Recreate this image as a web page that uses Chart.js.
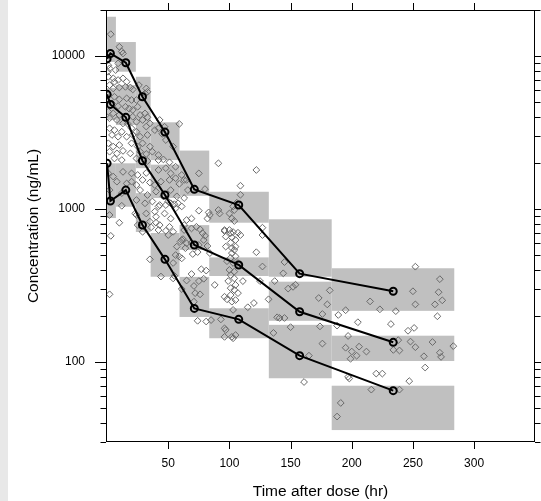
<!DOCTYPE html>
<html>
<head>
<meta charset="utf-8">
<script src="https://cdn.jsdelivr.net/npm/chart.js@4.4.1/dist/chart.umd.min.js"></script>
<style>
  html, body { margin: 0; padding: 0; background: #fff; }
  #strip { position: absolute; left: 0; top: 0; width: 8px; height: 501px; background: #e8e8e8; }
  #wrap { position: absolute; left: 0; top: 0; width: 541px; height: 501px; }
</style>
</head>
<body>
<div id="strip"></div>
<div id="wrap"><canvas id="vpc" width="541" height="501"></canvas></div>
<script>
// bins (time after dose, hr)
const binStart = [0, 7.2, 23.5, 35.6, 59.2, 83.5, 132.2, 183.6];
const binEnd   = [7.2, 23.5, 35.6, 59.2, 83.5, 132.2, 183.6, 283.8];

// simulated prediction intervals (ng/mL) for the 95th, 50th and 5th percentiles
const piHighLo = [9140, 7900, 4400, 2090, 1220, 814, 361, 216];
const piHighHi = [18070, 12350, 7320, 3690, 2410, 1297, 857, 410];
const piMedLo  = [3820, 3540, 1850, 1180, 540, 365, 186, 101.5];
const piMedHi  = [6180, 6460, 4400, 1950, 785, 483, 335, 148.6];
const piLowLo  = [873, 1035, 708, 361, 197, 143, 78.3, 35.9];
const piLowHi  = [1990, 1990, 1270, 697, 360, 224.5, 175, 70];

// observed percentiles per bin
const binTime = [0, 2.7, 15.3, 28.9, 47.3, 71.3, 107.6, 157.4, 233.9];
const obsHigh = [9600, 10400, 9040, 5420, 3185, 1345, 1062, 378, 290];
const obsMed  = [5620, 4830, 3975, 2070, 1235, 582, 431, 213, 134.5];
const obsLow  = [1990, 1128, 1330, 786, 469, 224, 190, 110, 65];

// observed concentrations [time, conc]
const observed = [
  [145,450],[144,380],[148,302],[152,310],[154,320],[182,294],[173,262],[180,238],[176,206],[145,194],
  [141,194],[150,169],[174,171],[176,132],[165,110],[161,74],[189,203],[195,218],[188,173],[205,182],
  [197,148],[195,124],[200,117],[199,105],[206,126],[212,117],[197,80],[198,78],[191,54],[188,44],
  [215,249],[223,221],[232,177],[236,215],[216,66],[220,84],[225,84],[246,160],[251,167],[238,139],
  [234,120],[239,119],[239,66],[247,75],[250,290],[252,420],[252,238],[248,136],[252,125],[259,109],
  [260,92],[266,135],[268,238],[270,199],[271,286],[272,348],[274,253],[272,115],[273,108],[283,127],
  [204,110],[137,338],[136,155],[139,196],[125,338],
  [91,1990],[122,1800],[109,1420],[109,1240],[106,1100],[103,1040],[104,985],[100,935],[102,866],[104,835],
  [96,729],[100,729],[101,696],[97,568],[102,556],[105,568],[91,985],[83,950],[75,975],[75,1710],
  [127,676],[96,718],[103,707],[107,700],[109,676],[97,660],[102,652],[105,627],[101,603],[104,540],
  [102,515],[105,490],[101,479],[98,456],[103,444],[107,444],[100,400],[104,390],[101,370],[104,352],
  [99,338],[105,319],[101,304],[104,296],[107,282],[101,274],[96,267],[98,257],[102,248],[105,254],
  [103,219],[102,146],[105,150],[97,162],[96,146],[88,319],[82,866],[111,338],[115,228],[122,522],
  [127,421],[132,257],[96,166],[93,190],[103,143],[85,188],[120,243],[127,755],[80,1350],
  [84,914],[92,935],[63,729],[69,747],[73,765],[76,737],[78,696],[80,668],[79,627],[61,627],
  [65,597],[69,602],[64,555],[70,508],[74,523],[61,476],[82,573],[84,515],[69,376],[77,404],
  [81,396],[65,341],[71,314],[75,338],[79,350],[72,282],[76,277],[74,186],[81,184],[71,248],
  [75,582],[61,300],[65,1550],
  [35,469],[44,362],[54,444],[59,490],[56,500],[57,568],[60,613],[62,636],[50,676],[54,710],
  [48,720],[43,786],[40,814],[36,760],[39,963],[42,1040],[48,1062],[52,1090],[56,1010],[58,1090],
  [55,366],[54,352],
  [25,786],[29,710],[12,1050],[10,814],[3,668],[2,277],[2,914],[24,914],[32,935],
  [3,13900],[10,11500],[12,10700],[13,10400],[9,8960],[7,8100],[2,8300],[1,7320],[5,7150],[6,6790],
  [9,6970],[13,7150],[16,6790],[2,6460],[5,6140],[10,6230],[15,6290],[19,6230],[21,6050],[32,6140],
  [33,5840],[31,5700],[26,6460],[1,5560],[6,5420],[10,5210],[16,5290],[20,5160],[24,5160],[4,4910],
  [9,4710],[15,4660],[18,4530],[21,4440],[25,4660],[1,4330],[5,4220],[10,4120],[21,4010],[27,4120],
  [31,4220],[2,3920],[8,3820],[13,3630],[17,3600],[24,3720],[29,3820],[33,3980],[2,3370],[6,3280],
  [12,3200],[20,3370],[24,3200],[32,3460],[35,3630],[4,3050],[9,2970],[16,2970],[21,3050],[27,2970],
  [33,3050],[39,3280],[59,3600],[1,2690],[5,2560],[10,2620],[20,2690],[25,2560],[29,2690],[35,2560],
  [2,2370],[8,2310],[13,2400],[19,2310],[27,2370],[32,2290],[37,2370],[42,2250],[6,2140],[12,2090],
  [24,2140],[33,2060],[42,2090],[46,2110],[51,2020],[1,1710],[5,1630],[13,1750],[20,1710],[25,1670],
  [32,1720],[42,1800],[48,1850],[52,1710],[56,1890],[8,1510],[16,1470],[20,1510],[24,1435],[29,1550],
  [35,1490],[39,1435],[44,1510],[51,1550],[56,1590],[2,1330],[12,1270],[27,1330],[33,1235],[40,1300],
  [52,1330],[57,1210],[46,1210],[24,1145],[31,1090],[37,1120],[43,1062],[50,1120],[55,1075],[23,935],
  [40,890],[47,935],[52,866],[35,827],[42,729],[51,765],[59,1460],[63,1550],[61,1670],[66,1330],
  [63,1180],[61,1040],[65,848],[69,866],[63,786],[43,3820],[47,3450],[42,3370],[45,3100],[48,2825],
  [54,2560],[0.5,9400],[1,8700],[0.5,7900]
];

// axes
const xTicks = [50, 100, 150, 200, 250, 300];
const yMajorTicks = [100, 1000, 10000];
const yMinorTicks = [30, 40, 50, 60, 70, 80, 90, 200, 300, 400, 500, 600, 700, 800, 900,
                     2000, 3000, 4000, 5000, 6000, 7000, 8000, 9000, 20000];

const fontFamily = "'Liberation Sans', Arial, sans-serif";

// grey boxes under the points, frame and tick marks on top
const vpcDecor = {
  id: 'vpcDecor',
  beforeDatasetsDraw(chart) {
    const {ctx, chartArea: a, scales: {x, y}} = chart;
    ctx.save();
    ctx.beginPath();
    ctx.rect(a.left, a.top, a.right - a.left, a.bottom - a.top);
    ctx.clip();
    ctx.fillStyle = '#c0c0c0';
    const bands = [[piHighLo, piHighHi], [piMedLo, piMedHi], [piLowLo, piLowHi]];
    binStart.forEach((b, i) => {
      const x0 = x.getPixelForValue(b);
      const x1 = x.getPixelForValue(binEnd[i]);
      bands.forEach(([lo, hi]) => {
        const y0 = y.getPixelForValue(hi[i]);
        const y1 = y.getPixelForValue(lo[i]);
        ctx.fillRect(x0, y0, x1 - x0, y1 - y0);
      });
    });
    ctx.restore();
  },
  afterDraw(chart) {
    const {ctx, chartArea: a, scales: {x, y}} = chart;
    ctx.save();
    ctx.strokeStyle = '#000';
    ctx.lineWidth = 1;
    ctx.strokeRect(a.left + 0.5, a.top + 0.5, a.right - a.left - 1, a.bottom - a.top - 1);
    ctx.beginPath();
    xTicks.forEach(v => {
      const px = Math.round(x.getPixelForValue(v)) + 0.5;
      ctx.moveTo(px, a.top); ctx.lineTo(px, a.top - 7);
      ctx.moveTo(px, a.bottom); ctx.lineTo(px, a.bottom + 7);
    });
    const yTick = (v, len) => {
      const py = Math.round(y.getPixelForValue(v)) + 0.5;
      ctx.moveTo(a.left, py); ctx.lineTo(a.left - len, py);
      ctx.moveTo(a.right, py); ctx.lineTo(a.right + len, py);
    };
    yMajorTicks.forEach(v => yTick(v, 11));
    yMinorTicks.forEach(v => yTick(v, 5.5));
    ctx.stroke();
    ctx.restore();
  }
};

function percentileLine(values) {
  return {
    data: binTime.map((t, i) => ({x: t, y: values[i]})),
    showLine: true,
    borderColor: '#000',
    borderWidth: 2,
    pointRadius: 3.5,
    pointBorderWidth: 2,
    pointBorderColor: '#000',
    pointBackgroundColor: 'rgba(0,0,0,0)',
    pointStyle: 'circle',
    clip: 0,
    order: 0
  };
}

new Chart(document.getElementById('vpc'), {
  type: 'scatter',
  data: {
    datasets: [
      percentileLine(obsHigh),
      percentileLine(obsMed),
      percentileLine(obsLow),
      {
        data: observed.map(p => ({x: p[0], y: p[1]})),
        pointStyle: 'rectRot',
        pointRadius: 3.4,
        borderColor: '#6a6a6a',
        backgroundColor: 'rgba(0,0,0,0)',
        borderWidth: 1,
        clip: 0,
        order: 1
      }
    ]
  },
  options: {
    responsive: false,
    animation: false,
    layout: {padding: {top: 10, right: 3, left: 0, bottom: 0}},
    plugins: {legend: {display: false}, tooltip: {enabled: false}},
    scales: {
      x: {
        type: 'linear',
        min: -0.9,
        max: 349.8,
        afterBuildTicks: s => { s.ticks = xTicks.map(v => ({value: v})); },
        afterFit: s => { s.height = 59; s.paddingLeft = 0; s.paddingRight = 0; },
        grid: {display: false, drawTicks: false},
        border: {display: false},
        ticks: {padding: 14, color: '#000', maxRotation: 0, autoSkip: false,
                font: {family: fontFamily, size: 12}},
        title: {display: true, text: 'Time after dose (hr)', color: '#000',
                font: {family: fontFamily, size: 15.5}, padding: {top: 0, bottom: 0}}
      },
      y: {
        type: 'logarithmic',
        min: 30,
        max: 20000,
        afterBuildTicks: s => { s.ticks = yMajorTicks.map(v => ({value: v})); },
        afterFit: s => { s.width = 106; s.paddingTop = 0; s.paddingBottom = 0; },
        grid: {display: false, drawTicks: false},
        border: {display: false},
        ticks: {padding: 21, color: '#000', autoSkip: false,
                font: {family: fontFamily, size: 12},
                callback: v => String(v)},
        title: {display: true, text: 'Concentration (ng/mL)', color: '#000',
                font: {family: fontFamily, size: 15.5}, padding: {top: 24, bottom: 0}}
      }
    }
  },
  plugins: [vpcDecor]
});
</script>
</body>
</html>
